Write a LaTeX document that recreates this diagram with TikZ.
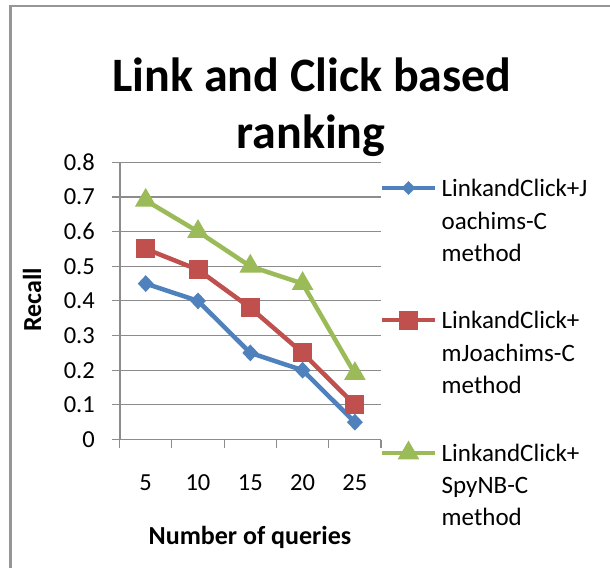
\documentclass[tikz,border=0pt]{standalone}
\usepackage{fontspec}
\setmainfont{Carlito}
\usetikzlibrary{shapes.geometric}
\definecolor{sblue}{HTML}{4F81BD}
\definecolor{sred}{HTML}{C0504D}
\definecolor{sgreen}{HTML}{9BBB59}
\definecolor{gridc}{HTML}{8C8C8C}
\definecolor{framec}{HTML}{969696}
\begin{document}
\begin{tikzpicture}[x=1pt,y=-1pt,
  gridl/.style={draw=gridc, line width=1.1pt},
  serl/.style={line width=4.5pt, line join=round},
  dmark/.style={diamond, fill=sblue, minimum width=16pt, minimum height=17pt, inner sep=0pt},
  smark/.style={rectangle, fill=sred, minimum size=19pt, inner sep=0pt},
  tmark/.style={regular polygon, regular polygon sides=3, fill=sgreen, minimum size=25pt, inner sep=0pt},
  tick/.style={font=\fontsize{24.5}{24.5}\selectfont, inner sep=0pt},
  legt/.style={font=\fontsize{25}{25}\selectfont, anchor=base west, inner sep=0pt},
  titl/.style={font=\fontsize{48}{48}\selectfont\bfseries, anchor=base, inner sep=0pt},
  axt/.style={font=\fontsize{26}{26}\selectfont\bfseries, inner sep=0pt}]
\useasboundingbox (0,0) rectangle (610,568);
\fill[white] (0,0) rectangle (610,568);
% frame
\draw[framec, line width=2.5pt] (10.5,568) -- (10.5,6) -- (610,6);
% title
\node[titl] (t1) at (312,91) {Link and Click based};
\node[titl] (t2) at (311,148) {ranking};
% grid
\foreach \v in {0.1,0.2,0.3,0.4,0.5,0.6,0.7,0.8} {
  \draw[gridl] (111.5,439.5-346.5*\v) -- (381,439.5-346.5*\v);
}
\draw[gridl] (111.5,439.5) -- (381,439.5);
\draw[gridl] (120,162.3) -- (120,439.5);
\foreach \k in {0,...,5} {
  \draw[gridl] (119.5+52.3*\k,439.5) -- (119.5+52.3*\k,448);
}
% y labels
\foreach \v in {0,0.1,0.2,0.3,0.4,0.5,0.6,0.7,0.8} {
  \node[tick, anchor=east] at (95,439.5-346.5*\v) {\v};
}
% x labels
\foreach \c [count=\i] in {5,10,15,20,25} {
  \node[tick] at (119.5+52.3*\i-26.15,483) {\c};
}
\node[axt, rotate=90] (ylab) at (32,300) {Recall};
\node[axt] (xlab) at (250,537) {Number of queries};
% series coordinates
\coordinate (b1) at (145.7,283.6);
\coordinate (b2) at (198.0,300.9);
\coordinate (b3) at (250.3,352.9);
\coordinate (b4) at (302.6,370.2);
\coordinate (b5) at (354.9,422.2);
\coordinate (r1) at (145.7,248.9);
\coordinate (r2) at (198.0,269.7);
\coordinate (r3) at (250.3,307.8);
\coordinate (r4) at (302.6,352.9);
\coordinate (r5) at (354.9,404.9);
\coordinate (g1) at (145.7,200.4);
\coordinate (g2) at (198.0,231.6);
\coordinate (g3) at (250.3,266.3);
\coordinate (g4) at (302.6,283.6);
\coordinate (g5) at (354.9,373.7);
\draw[serl, sblue] (b1) -- (b2) -- (b3) -- (b4) -- (b5);
\draw[serl, sred] (r1) -- (r2) -- (r3) -- (r4) -- (r5);
\draw[serl, sgreen] (g1) -- (g2) -- (g3) -- (g4) -- (g5);
\foreach \n in {b1,b2,b3,b4,b5} { \node[dmark] at (\n) {}; }
\foreach \n in {r1,r2,r3,r4,r5} { \node[smark] at (\n) {}; }
\foreach \n in {g1,g2,g3,g4,g5} { \node[tmark] at (\n) {}; }
% legend
\coordinate (l1a) at (382,188);
\coordinate (l1b) at (435,188);
\coordinate (l2a) at (382,320);
\coordinate (l2b) at (435,320);
\coordinate (l3a) at (382,453);
\coordinate (l3b) at (435,453);
\draw[serl, sblue] (l1a) -- (l1b);
\draw[serl, sred] (l2a) -- (l2b);
\draw[serl, sgreen] (l3a) -- (l3b);
\node[dmark, minimum width=14pt, minimum height=14pt] at (408.5,188) {};
\node[smark] at (408.5,320) {};
\node[tmark] at (408.5,453) {};
\node[legt] (l11) at (441.5,196.5) {LinkandClick+J};
\node[legt] (l12) at (441.5,229.5) {oachims-C};
\node[legt] (l13) at (441.5,261.5) {method};
\node[legt] (l21) at (441.5,328.5) {LinkandClick+};
\node[legt] (l22) at (441.5,361.5) {mJoachims-C};
\node[legt] (l23) at (441.5,393.5) {method};
\node[legt] (l31) at (441.5,461.5) {LinkandClick+};
\node[legt] (l32) at (441.5,493.5) {SpyNB-C};
\node[legt] (l33) at (441.5,525.5) {method};
\end{tikzpicture}
\end{document}
